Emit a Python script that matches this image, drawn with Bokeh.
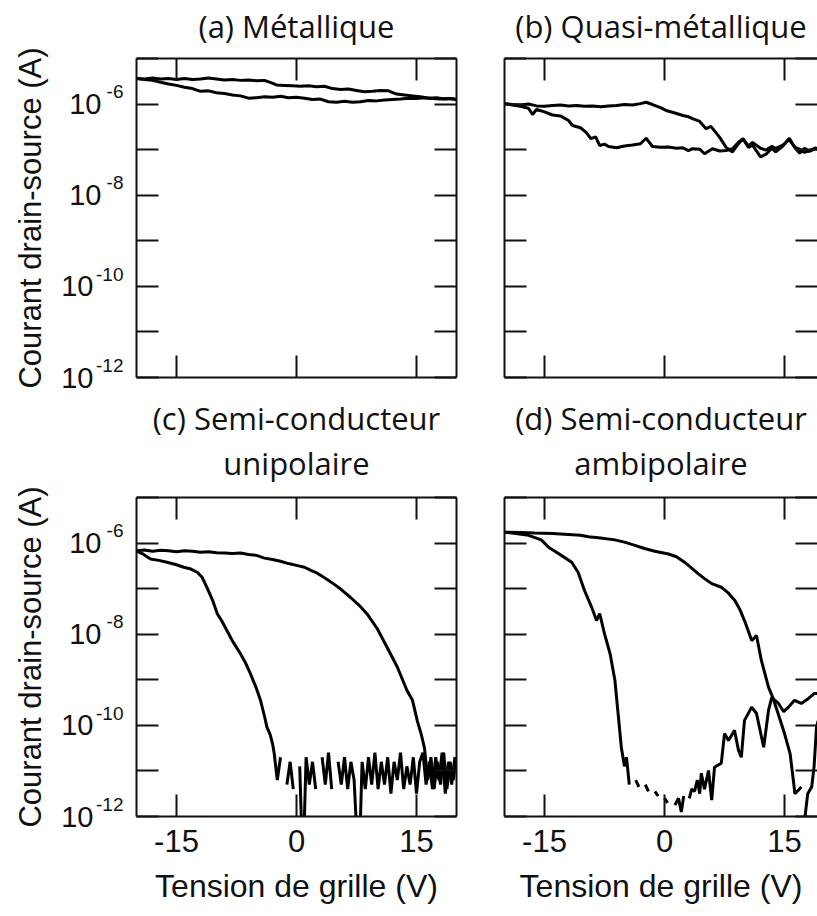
from bokeh.plotting import figure
from bokeh.layouts import column, row
from bokeh.models import (FixedTicker, LinearAxis, LogAxis, Title, CustomJSTickFormatter,
                          Range1d, LogScale)
from bokeh.embed import file_html
from bokeh.resources import INLINE

nan = float("nan")

# ---------------- axes / labels ----------------
x_ticks = [-15, 0, 15]
x_tick_labels = ["-15", "0", "15"]
y_tick_exponents = [-12, -11, -10, -9, -8, -7, -6, -5]
y_label_exponents = [-12, -10, -8, -6]
y_label_bases = ["10\u2008", "10\u2008", "10", "10"]
y_label_sups = ["-12", "-10", "-8", "-6"]
x_axis_title = "Tension de grille (V)"
y_axis_title = "Courant drain-source (A)"

title_a = ["(a) Métallique"]
title_b = ["(b) Quasi-métallique"]
title_c = ["(c) Semi-conducteur", "unipolaire"]
title_d = ["(d) Semi-conducteur", "ambipolaire"]

# ---------------- data: gate voltage (V), log10 of drain-source current (A) ----------------
# (a) Métallique
a_up_v = [-20, -19, -18, -17, -16, -15, -14, -13, -12, -11, -10, -9, -8, -7, -6, -5, -4,
          -3.2, -2.5, -1.5, -0.5, 0.5, 1.5, 2.5, 3.5, 4.5, 5.5, 6.5, 7.5, 8.5, 9.5, 10.5,
          11.5, 12.5, 13.5, 14.5, 15.5, 16.5, 17.5, 18.5, 19.5, 20]
a_up_log = [-5.44, -5.45, -5.43, -5.45, -5.44, -5.46, -5.44, -5.46, -5.45, -5.43, -5.45, -5.47,
            -5.46, -5.48, -5.47, -5.49, -5.48, -5.53, -5.58, -5.59, -5.60, -5.61, -5.60, -5.62,
            -5.61, -5.66, -5.68, -5.67, -5.70, -5.73, -5.72, -5.70, -5.71, -5.78, -5.80, -5.82,
            -5.84, -5.87, -5.86, -5.89, -5.88, -5.90]
a_lo_v = [-20, -19, -18, -17, -16, -15, -14, -13, -12, -11, -10, -9, -8, -7, -6, -5, -4, -3, -2,
          -1, 0, 1, 2, 3, 4, 5, 6, 7, 8, 9, 10, 11, 12, 13, 14, 15, 16, 17, 18, 19, 20]
a_lo_log = [-5.44, -5.46, -5.48, -5.52, -5.56, -5.59, -5.63, -5.66, -5.72, -5.71, -5.75, -5.77,
            -5.80, -5.82, -5.87, -5.86, -5.84, -5.85, -5.83, -5.86, -5.85, -5.87, -5.90, -5.89,
            -5.95, -5.96, -5.94, -5.96, -5.95, -5.92, -5.93, -5.91, -5.90, -5.89, -5.87, -5.88,
            -5.86, -5.88, -5.89, -5.88, -5.90]

# (b) Quasi-métallique
b_up_v = [-20, -19, -18, -17, -16, -15, -14, -13, -12, -11, -10, -9, -8, -7, -6, -5, -4, -3,
          -2.3, -1.5, -0.5, 0.2, 1.2, 2.3, 3.0, 3.5, 4.4, 5.2, 5.8, 6.9, 7.7, 8.5, 9.2, 9.8,
          10.5, 11.0, 12.0, 12.7, 13.4, 13.9, 14.8, 15.6, 16.3, 16.9, 17.5, 18.1, 18.9, 19.2]
b_up_log = [-5.99, -6.01, -6.02, -6.00, -6.04, -6.05, -6.03, -6.02, -6.04, -6.03, -6.05, -6.04,
            -6.06, -6.04, -6.03, -6.01, -6.02, -5.99, -5.96, -6.01, -6.08, -6.14, -6.19, -6.25,
            -6.28, -6.32, -6.38, -6.54, -6.49, -6.73, -6.95, -7.05, -6.88, -6.76, -6.92, -6.84,
            -6.97, -7.01, -6.93, -6.97, -6.90, -6.78, -6.95, -6.99, -7.06, -7.02, -6.96, -7.00]
b_lo_v = [-20, -19, -18, -17, -16.5, -16, -15, -14, -13, -12, -11.5, -10.5, -9.8, -9.2, -8.6,
          -8.1, -7.5, -7, -6, -5, -4, -3, -2.3, -1.5, -0.5, 0.5, 1.5, 2.3, 3.0, 3.5, 4.4, 5.0,
          6.0, 6.9, 7.7, 8.5, 9.3, 9.8, 10.5, 11.0, 12.0, 12.7, 13.4, 13.9, 14.8, 15.6, 16.3,
          16.9, 17.5, 18.1, 18.9, 19.2]
b_lo_log = [-5.99, -6.02, -6.05, -6.09, -6.23, -6.12, -6.17, -6.24, -6.26, -6.36, -6.47, -6.52,
            -6.62, -6.76, -6.72, -6.91, -6.88, -6.93, -6.96, -6.92, -6.90, -6.87, -6.75, -6.93,
            -6.95, -6.94, -6.97, -6.96, -7.02, -6.98, -6.99, -7.09, -6.98, -7.03, -7.02, -6.98,
            -6.83, -6.76, -6.95, -6.90, -7.16, -7.10, -6.97, -7.05, -6.92, -6.75, -6.96, -7.08,
            -6.97, -7.04, -6.98, -6.99]

# (c) Semi-conducteur unipolaire
c_up_v = [-20, -19, -18, -17, -16, -15, -14, -13, -12, -11, -10, -9, -8, -7, -6, -5, -4, -3, -2,
          -1, 0, 1, 1.8, 2.6, 3.5, 4.6, 5.6, 6.8, 7.8, 8.8, 10.1, 11.3, 12.6, 13.8, 14.5, 15.1,
          15.6, 16.0, 16.4, 16.8, 17.2, 17.6, 18.0, 18.4, 18.8, 19.2, 19.6, 20]
c_up_log = [-6.17, -6.15, -6.18, -6.16, -6.17, -6.19, -6.17, -6.18, -6.20, -6.19, -6.21, -6.22,
            -6.23, -6.22, -6.25, -6.27, -6.33, -6.36, -6.40, -6.45, -6.49, -6.53, -6.60, -6.66,
            -6.76, -6.89, -7.02, -7.20, -7.36, -7.55, -7.88, -8.28, -8.72, -9.23, -9.45, -9.90,
            -10.2, -10.5, -11.2, -10.7, -11.4, -10.8, -11.3, -10.6, -11.4, -10.8, -11.2, -10.7]
c_lo_v = [-20, -19.3, -18.25, -17.2, -16.2, -15.1, -14.1, -13.2, -12.4, -11.8, -11.2, -10.5,
          -9.9, -9.3, -8.7, -7.9, -7.0, -6.4, -5.75, -5.1, -4.5, -4.0, -3.7, -3.3, -3.0,
          -2.8, -2.4, -2.0, -1.6, -1.2, -0.8, -0.4, 0.0, 0.4, 0.7, 0.9, 1.2, 1.6, 2.0, 2.4, 2.8,
          3.2, 3.6, 4.0, 4.4, 4.8, 5.2, 5.6, 6.0, 6.4, 6.8, 7.2, 7.6, 7.9, 8.2, 8.6, 9.0, 9.4,
          9.8, 10.2, 10.6, 11.0, 11.4, 11.8, 12.2, 12.6, 13.0, 13.4, 13.8, 14.2, 14.6, 15.0,
          15.4, 15.8, 16.2, 16.6, 17.0, 17.4, 17.8, 18.2, 18.6, 19.0, 19.4, 19.8, 20.0]
c_lo_log = [-6.17, -6.23, -6.35, -6.38, -6.42, -6.47, -6.53, -6.57, -6.64, -6.75, -6.97, -7.25,
            -7.55, -7.72, -7.92, -8.18, -8.43, -8.62, -8.87, -9.15, -9.45, -9.80, -10.04, -10.2,
            -10.4,
            -10.6, -11.2, -10.7, nan, -11.3, -10.8, -11.4, nan, -10.9, -12.6,
            -12.6, -10.7, -11.3, -10.8, -11.4, nan, -10.7, -11.3, -10.6, -11.4,
            nan, -10.8, -11.3, -10.7, -11.4, -10.8, -11.2, -12.6, -12.6, -10.8,
            -11.4, -10.7, -11.3, -10.6, -11.4, -10.8, -11.3, -10.7, -11.5, -10.8,
            -11.2, -10.6, -11.4, -10.9, -11.3, -10.7, -11.5, -10.8, -10.6, -11.3,
            -10.8, -11.4, -10.7, -11.2, -10.6, -11.5, -10.8, -11.3, -10.7, -10.9]

# (d) Semi-conducteur ambipolaire
d_up_v = [-20, -18, -16.2, -14, -12, -10.5, -9.5, -8, -6.2, -5, -3.7, -2.5, -1.2, 0.5, 1.5,
          2.5, 3.4, 4.2, 5.0, 5.9, 7.1, 8.0, 8.8, 9.4, 10.0, 10.9, 11.5, 12.1, 12.6, 13.0, 13.6,
          14.2, 15.0, 15.7, 16.1, 16.3, 16.7, 17.1, 17.3, 17.5, 17.9, 18.4, 18.7, 19.0, 19.2]
d_up_log = [-5.76, -5.77, -5.78, -5.79, -5.81, -5.83, -5.86, -5.89, -5.93, -5.98, -6.05, -6.12,
            -6.18, -6.24, -6.30, -6.42, -6.55, -6.67, -6.78, -6.89, -6.97, -7.10, -7.26, -7.45,
            -7.70, -8.14, -8.03, -8.57, -8.90, -9.16, -9.42, -9.74, -10.18, -10.62, -11.2, -11.5,
            -11.43, -11.35, nan, -12.1, -11.5, -11.35, -10.9, -10.04, -9.9]
d_lo_v = [-20, -17, -15.4, -14.5, -13.7, -12.9, -11.6, -10.8, -10.0, -9.1, -8.5, -8.1, -7.5,
          -6.8, -6.2, -5.8, -5.4, -5.0, -4.75, -4.4, -4.1, -3.6, -3.2, -2.9, -2.4, -2.0, -1.6,
          -1.2, -0.8, -0.4, 0.0, 0.4, 0.9, 1.3, 1.75, 2.1, 2.4, 2.8, 3.1, 3.4, 3.75, 4.1, 4.4,
          4.6, 5.0, 5.5, 5.9, 6.25, 7.1, 7.5, 8.0, 8.75, 9.25, 9.6, 10.0, 10.9, 11.5, 12.4,
          13.0, 13.4, 14.25, 14.9, 15.5, 16.25, 17.1, 18.0, 18.75, 19.25]
d_lo_log = [-5.76, -5.83, -5.93, -6.09, -6.18, -6.27, -6.42, -6.64, -7.04, -7.41, -7.70, -7.55,
            -7.99, -8.43, -9.01, -9.74, -10.48, -10.9, -10.7, -11.3, nan, -11.2, -11.35, nan,
            -11.3, -11.45, nan, -11.45, -11.55, nan, -11.6, -11.7, nan, -11.75, -11.6, -11.9,
            -11.55, nan, -11.6, -11.4, -11.45, -11.2, -11.5, -11.05, -11.4, -10.99, -11.64,
            -10.92, -10.83, -10.18, -10.33, -10.11, -10.55, -10.7, -9.89, -9.6, -9.74, -10.48,
            -9.67, -9.39, -9.52, -9.7, -9.6, -9.45, -9.52, -9.41, -9.3, -9.3]

for _v, _l in [(a_up_v, a_up_log), (a_lo_v, a_lo_log), (b_up_v, b_up_log), (b_lo_v, b_lo_log),
               (c_up_v, c_up_log), (c_lo_v, c_lo_log), (d_up_v, d_up_log), (d_lo_v, d_lo_log)]:
    assert len(_v) == len(_l), (len(_v), len(_l))

AX_FONT = "Liberation Sans"
T_FONT = "Open Sans"
INK = "#111111"
Y_LO, Y_HI = -12, -5          # decades shown
SUP_SHIFT = 0.27              # exponent raised by ~12 px (in decades)


def blank_axis(ax):
    ax.major_tick_in = 0
    ax.major_tick_out = 0
    ax.minor_tick_in = 0
    ax.minor_tick_out = 0
    ax.axis_line_color = None
    ax.major_tick_line_color = None
    ax.minor_tick_line_color = None
    ax.major_label_text_font = AX_FONT
    ax.major_label_text_color = INK


def make_panel(title_lines, curves, left_labels, bottom_labels, width, height,
               mbl, mbr, mbt, mbb, x_end, cut_right, title_standoff):
    p = figure(width=width, height=height, x_range=Range1d(-20, x_end),
               y_range=Range1d(10.0 ** Y_LO, 10.0 ** Y_HI), y_axis_type="log",
               extra_y_ranges={"sup": Range1d(10.0 ** (Y_LO - SUP_SHIFT),
                                               10.0 ** (Y_HI - SUP_SHIFT))},
               extra_y_scales={"sup": LogScale()},
               output_backend="svg", toolbar_location=None,
               min_border_left=mbl, min_border_right=mbr, min_border_top=mbt,
               min_border_bottom=mbb, outline_line_color=None,
               background_fill_color="white", border_fill_color="white")
    p.grid.visible = False
    below_ax = p.below[0]
    left_ax = p.left[0]
    above_ax = LinearAxis()
    right_ax = LogAxis()
    p.add_layout(above_ax, "above")
    p.add_layout(right_ax, "right")

    for ax in (below_ax, above_ax):
        ax.ticker = FixedTicker(ticks=x_ticks, minor_ticks=[])
    for ax in (left_ax, right_ax):
        ax.ticker = FixedTicker(ticks=[10.0 ** e for e in y_tick_exponents], minor_ticks=[])
    for ax in (below_ax, above_ax, left_ax, right_ax):
        ax.major_tick_in = 22
        ax.major_tick_out = 0
        ax.minor_tick_in = 0
        ax.minor_tick_out = 0
        ax.axis_line_width = 2
        ax.axis_line_color = INK
        ax.major_tick_line_width = 2
        ax.major_tick_line_color = INK
        ax.major_label_text_font = AX_FONT
        ax.major_label_text_color = INK
        ax.major_label_text_font_size = "0px"
        ax.major_label_standoff = 0
        ax.formatter = CustomJSTickFormatter(code="return ''")
    if cut_right:
        right_ax.axis_line_color = None

    # panel title: last line as the label of the top axis, earlier lines as Titles
    above_ax.axis_label = title_lines[-1]
    above_ax.axis_label_text_font = T_FONT
    above_ax.axis_label_text_font_size = "31px"
    above_ax.axis_label_text_font_style = "normal"
    above_ax.axis_label_text_color = INK
    above_ax.axis_label_standoff = title_standoff
    for line in reversed(title_lines[:-1]):
        p.add_layout(Title(text=line, align="center", text_font=T_FONT,
                           text_font_size="31px", text_font_style="normal",
                           text_color=INK, standoff=0), "above")

    if left_labels:
        # exponents (raised), next to the frame
        sup_ax = LogAxis(y_range_name="sup")
        blank_axis(sup_ax)
        sup_ax.ticker = FixedTicker(ticks=[10.0 ** e for e in y_label_exponents], minor_ticks=[])
        sup_ax.formatter = CustomJSTickFormatter(
            args=dict(exps=y_label_exponents, labs=y_label_sups),
            code="const e = Math.round(Math.log10(tick)); const i = exps.indexOf(e); "
                 "return i < 0 ? '' : labs[i];")
        sup_ax.major_label_text_font_size = "19px"
        sup_ax.major_label_standoff = 13
        p.add_layout(sup_ax, "left")
        # bases "10"
        base_ax = LogAxis()
        blank_axis(base_ax)
        base_ax.ticker = FixedTicker(ticks=[10.0 ** e for e in y_label_exponents], minor_ticks=[])
        base_ax.formatter = CustomJSTickFormatter(
            args=dict(exps=y_label_exponents, labs=y_label_bases),
            code="const e = Math.round(Math.log10(tick)); const i = exps.indexOf(e); "
                 "return i < 0 ? '' : labs[i];")
        base_ax.major_label_text_font_size = "29px"
        base_ax.major_label_standoff = -8
        base_ax.axis_label = y_axis_title
        base_ax.axis_label_text_font = AX_FONT
        base_ax.axis_label_text_font_size = "31px"
        base_ax.axis_label_text_font_style = "normal"
        base_ax.axis_label_text_color = INK
        base_ax.axis_label_standoff = 10
        p.add_layout(base_ax, "left")

    if bottom_labels:
        below_ax.formatter = CustomJSTickFormatter(
            args=dict(tv=x_ticks, labs=x_tick_labels),
            code="const i = tv.indexOf(tick); return i < 0 ? '' : labs[i];")
        below_ax.major_label_text_font_size = "31px"
        below_ax.major_label_standoff = 13
        below_ax.axis_label = x_axis_title
        below_ax.axis_label_text_font = AX_FONT
        below_ax.axis_label_text_font_size = "32px"
        below_ax.axis_label_text_font_style = "normal"
        below_ax.axis_label_text_color = INK
        below_ax.axis_label_standoff = 13

    for v, lg in curves:
        p.line(v, [10.0 ** l for l in lg], line_color="black", line_width=3)
    return p


pa = make_panel(title_a, [(a_up_v, a_up_log), (a_lo_v, a_lo_log)], True, False,
                480, 394, 136, 24, 58, 17, 20, False, 12)
pb = make_panel(title_b, [(b_up_v, b_up_log), (b_lo_v, b_lo_log)], False, False,
                337, 394, 24, 0, 58, 17, 19.125, True, 12)
pc = make_panel(title_c, [(c_up_v, c_up_log), (c_lo_v, c_lo_log)], True, True,
                480, 522, 136, 24, 103, 100, 20, False, 14)
pd = make_panel(title_d, [(d_up_v, d_up_log), (d_lo_v, d_lo_log)], False, True,
                337, 522, 24, 0, 103, 100, 19.125, True, 14)

layout = column(row(pa, pb), row(pc, pd))
open("out.html", "w").write(file_html(layout, INLINE))
